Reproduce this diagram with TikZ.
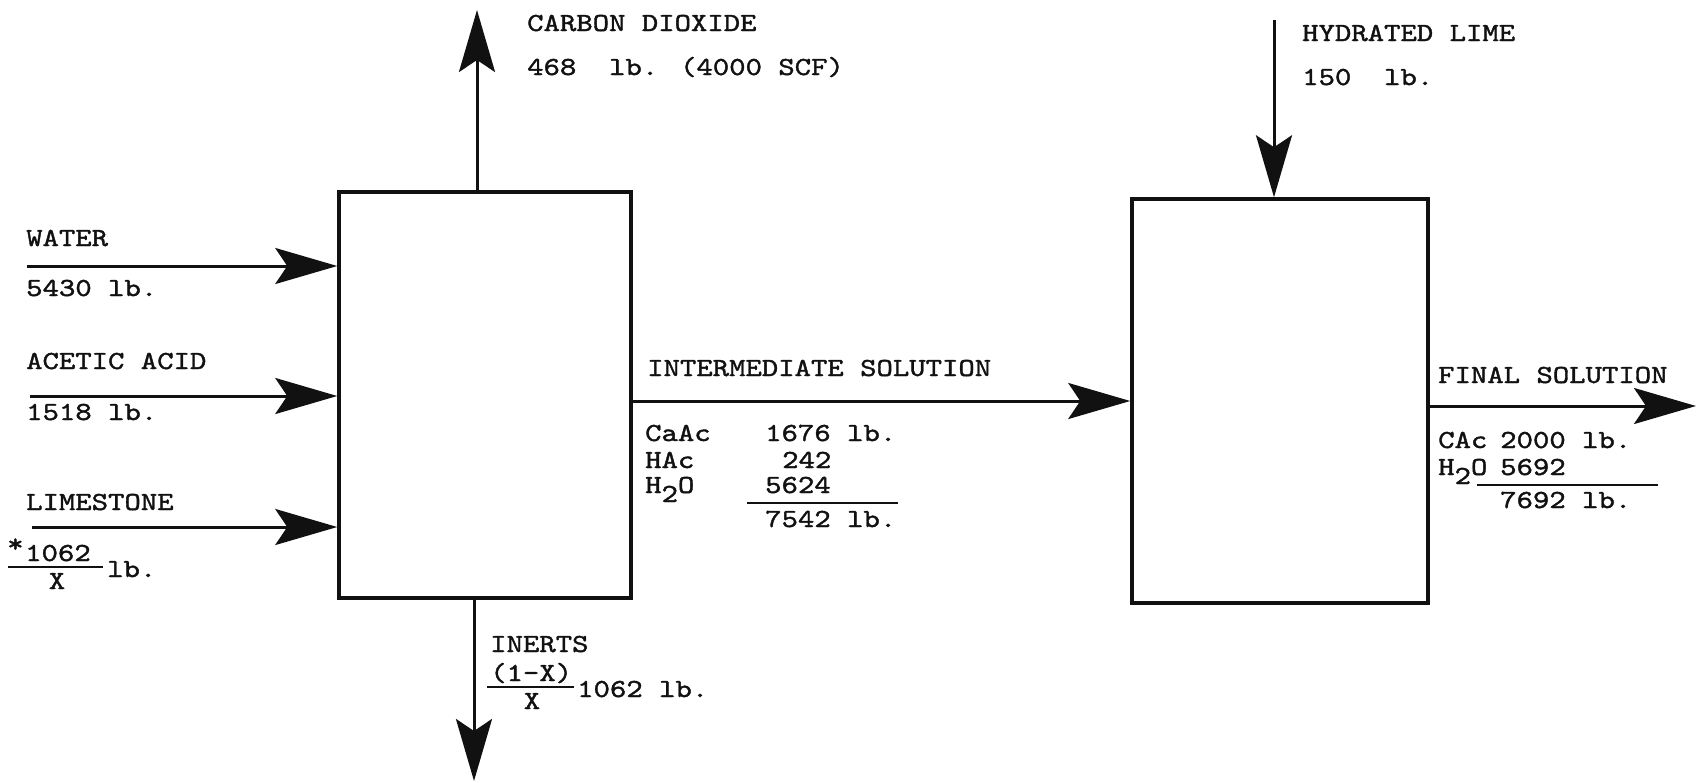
\documentclass[tikz,border=0pt]{standalone}
\usepackage{fontspec}
\newfontfamily\twfont{lmmono10-regular.otf}[FakeStretch=1.2, FakeBold=1.5]
\usetikzlibrary{arrows.meta, calc}

\begin{document}
\begin{tikzpicture}[
    every node/.style={font=\twfont\fontsize{26}{30}\selectfont, inner sep=0pt, text=ink},
    unit/.style={draw=ink, line width=3.5pt},
    flow/.style={draw=ink, line width=3pt,
                 -{Stealth[length=62pt, width=36pt, inset=12pt]}},
    tag/.style={anchor=base west},
    sumrule/.style={draw=ink, line width=2.2pt},
]

\definecolor{ink}{HTML}{111111}   % everything is one typewriter black

% one unit = one pixel of the sheet, y running downwards
\begin{scope}[x=1pt, y=-1pt]

    \useasboundingbox (0,0) rectangle (1697,782);

    % ------------------------------------------------------------ the two vessels
    \node[unit, minimum width=292pt, minimum height=406pt] (mix) at (485,395) {};
    \node[unit, minimum width=296pt, minimum height=404pt] (neut) at (1280,401) {};

    % ------------------------------------------------------------ stream ends
    \coordinate (waterin)   at (27,266);
    \coordinate (acidin)    at (30,396);
    \coordinate (stonein)   at (32,527);
    \coordinate (gasout)    at (477,10);
    \coordinate (inertsout) at (474,781);
    \coordinate (solnrow)   at (700,401);
    \coordinate (limein)    at (1274,20);
    \coordinate (finalout)  at (1696,406);

    % ------------------------------------------------------------ streams
    \draw[flow] (waterin) -- (waterin -| mix.west);
    \draw[flow] (acidin)  -- (acidin -| mix.west);
    \draw[flow] (stonein) -- (stonein -| mix.west);
    \draw[flow] (gasout |- mix.north) -- (gasout);
    \draw[flow] (inertsout |- mix.south) -- (inertsout);
    \draw[flow] (solnrow -| mix.east) -- (solnrow -| neut.west);
    \draw[flow] (limein) -- (limein |- neut.north);
    \draw[flow] (finalout -| neut.east) -- (finalout);

    % ------------------------------------------------------------ feeds
    \node[tag] (watername) at (26,246) {WATER};
    \node[tag] (watermass) at (26,296) {5430 lb.};
    \node[tag] (acidname)  at (26,369) {ACETIC ACID};
    \node[tag] (acidmass)  at (26,420) {1518 lb.};
    \node[tag] (stonename) at (26,510) {LIMESTONE};

    % limestone charge, written as a fraction
    \node[tag] (stonestar) at (7,552) {*};
    \node[tag] (stonenum)  at (25,561) {1062};
    \draw[sumrule] (8,567) -- (103,567);
    \node[anchor=base] (stoneden) at (57,589) {X};
    \node[tag] (stoneunit) at (107,577) {lb.};

    % ------------------------------------------------------------ off-gas and lime
    \node[tag] (gasname) at (527,31) {CARBON DIOXIDE};
    \node[tag] (gasmass) at (527,75) {468~ lb. (4000 SCF)};
    \node[tag] (limename) at (1302,41) {HYDRATED LIME};
    \node[tag] (limemass) at (1302,85) {150~ lb.};

    % ------------------------------------------------------------ inerts
    \node[tag] (inertsname) at (490,652) {INERTS};
    \node[tag] (inertsnum)  at (490,681) {(1-X)};
    \draw[sumrule] (487,687) -- (574,687);
    \node[anchor=base] (inertsden) at (532,709) {X};
    \node[tag] (inertsunit) at (577,697) {1062 lb.};

    % ------------------------------------------------------------ intermediate solution
    \node[tag] (solnname) at (647,376) {INTERMEDIATE SOLUTION};
    \node[tag] (solnca)  at (645,441) {CaAc};
    \node[tag] (solnha)  at (645,468) {HAc};
    \node[tag] (solnwt)  at (645,493) {H\raisebox{-9pt}{2}O};
    \node[tag] (solncav) at (765,441) {1676 lb.};
    \node[tag] (solnhav) at (782,468) {242};
    \node[tag] (solnwtv) at (765,493) {5624};
    \draw[sumrule] (747,503) -- (898,503);
    \node[tag] (solnsum) at (765,527) {7542 lb.};

    % ------------------------------------------------------------ final solution
    \node[tag] (finalname) at (1438,383) {FINAL SOLUTION};
    \node[tag] (finalca)  at (1438,448) {CAc};
    \node[tag] (finalwt)  at (1438,475) {H\raisebox{-9pt}{2}O};
    \node[tag] (finalcav) at (1500,448) {2000 lb.};
    \node[tag] (finalwtv) at (1500,475) {5692};
    \draw[sumrule] (1477,485) -- (1658,485);
    \node[tag] (finalsum) at (1500,508) {7692 lb.};

\end{scope}

\end{tikzpicture}
\end{document}
